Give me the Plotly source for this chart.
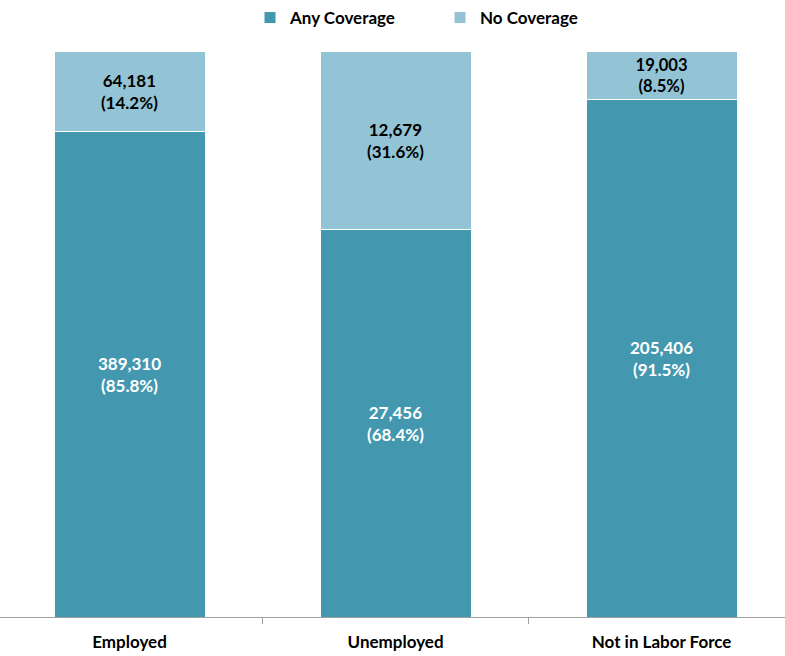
import plotly.graph_objects as go

categories = ["Employed", "Unemployed", "Not in Labor Force"]
any_counts = [389310, 27456, 205406]
none_counts = [64181, 12679, 19003]
any_pct = [85.8, 68.4, 91.5]
none_pct = [14.2, 31.6, 8.5]

DARK = "#4398B0"
LIGHT = "#93C4D6"
FONT = "Lato, Carlito, Calibri, sans-serif"
FS = 17

def labels(counts, pcts):
    return [f"{c:,}<br>({p}%)" for c, p in zip(counts, pcts)]

fig = go.Figure()
fig.add_trace(go.Bar(
    x=categories, y=any_pct, name="Any Coverage",
    marker=dict(color=DARK, line=dict(color="white", width=1)),
    text=labels(any_counts, any_pct), textposition="inside",
    insidetextanchor="middle",
    textfont=dict(color="white", size=FS, family=FONT, weight="bold"),
    width=0.568, hoverinfo="skip",
))
fig.add_trace(go.Bar(
    x=categories, y=none_pct, name="No Coverage",
    marker=dict(color=LIGHT, line=dict(color="white", width=1)),
    text=labels(none_counts, none_pct), textposition="inside",
    insidetextanchor="middle",
    textfont=dict(color="black", size=FS, family=FONT, weight="bold"),
    width=0.568, hoverinfo="skip",
))

fig.update_layout(
    barmode="stack",
    width=785, height=656,
    autosize=False,
    margin=dict(l=0, r=0, t=51, b=39),
    paper_bgcolor="white", plot_bgcolor="white",
    font=dict(family=FONT, size=FS, color="black"),
    uniformtext=dict(mode=False),
    legend=dict(orientation="h", x=0.3185, xanchor="left", y=1.0, yref="container",
                yanchor="top", font=dict(size=FS, family=FONT, weight="bold"),
                traceorder="normal", itemwidth=30, entrywidth=145),
    xaxis=dict(range=[-0.487, 2.464], showline=True, linecolor="#a0a0a0", linewidth=1,
               ticks="outside", tickson="boundaries", ticklen=6, tickcolor="#a0a0a0",
               ticklabelstandoff=10,
               tickfont=dict(size=FS, family=FONT, weight="bold"), showgrid=False),
    yaxis=dict(range=[0, 100], visible=False, showgrid=False),
)

fig.write_html("out.html", config={"displayModeBar": False},
               post_script="document.body.style.margin='0';document.body.style.padding='0';")
